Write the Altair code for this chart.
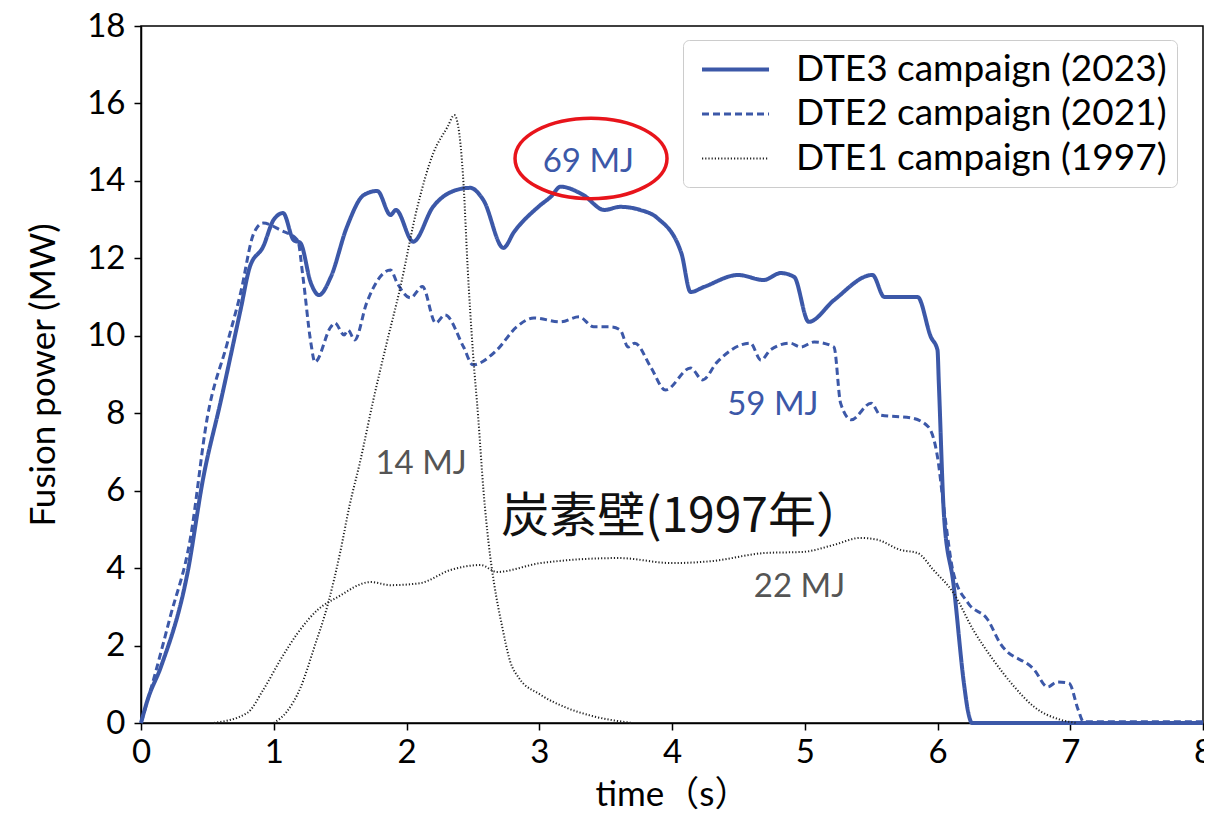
import altair as alt
import pandas as pd

BLUE = "#3C58A8"

# ---- data ----
dte3_t = [0, 0.05, 0.15, 0.35, 0.47, 0.6, 0.75, 0.82, 0.92, 1.0, 1.07, 1.15, 1.2, 1.28, 1.34, 1.43,
          1.55, 1.68, 1.78, 1.88, 1.92, 2.05, 2.2, 2.38, 2.48, 2.58, 2.73, 2.81, 3.0, 3.09, 3.16,
          3.33, 3.49, 3.61, 3.76, 3.89, 4.07, 4.14, 4.24, 4.5, 4.69, 4.82, 4.92, 5.03, 5.22, 5.51,
          5.6, 5.85, 5.95, 6.0, 6.01, 6.05, 6.12, 6.2, 6.23, 6.26, 8.0]
dte3_p = [0, 0.6, 1.45, 3.87, 6.35, 8.3, 10.67, 11.78, 12.3, 13.0, 13.17, 12.47, 12.4, 11.36, 11.05, 11.52,
          12.8, 13.64, 13.74, 13.12, 13.25, 12.43, 13.33, 13.77, 13.82, 13.5, 12.27, 12.68, 13.35, 13.6, 13.85,
          13.64, 13.25, 13.33, 13.25, 13.04, 12.14, 11.13, 11.26, 11.57, 11.44, 11.62, 11.52, 10.36, 10.92, 11.57,
          11.0, 11.0, 9.97, 9.63, 8.78, 5.3, 3.6, 1.0, 0.3, 0.0, 0.0]

dte2_t = [0, 0.1, 0.22, 0.37, 0.5, 0.65, 0.75, 0.85, 0.92, 1.05, 1.18, 1.22, 1.28, 1.31, 1.43, 1.46,
          1.53, 1.56, 1.61, 1.7, 1.88, 1.93, 2.03, 2.12, 2.22, 2.29, 2.43, 2.5, 2.68, 2.83, 2.96,
          3.16, 3.3, 3.41, 3.54, 3.61, 3.67, 3.72, 3.84, 3.95, 4.14, 4.23, 4.34, 4.59, 4.67, 4.74,
          4.89, 4.97, 5.07, 5.22, 5.27, 5.35, 5.5, 5.57, 5.8, 5.93, 6.0, 6.05, 6.12, 6.23, 6.38,
          6.47, 6.73, 6.83, 6.9, 6.99, 7.06, 7.1, 8.0]
dte2_p = [0, 1.19, 2.74, 4.73, 7.9, 9.81, 11.1, 12.65, 12.91, 12.73, 12.47, 11.52, 9.81, 9.32, 10.23, 10.33,
          10.02, 10.15, 9.89, 10.85, 11.7, 11.36, 10.98, 11.27, 10.33, 10.54, 9.71, 9.25, 9.63, 10.23, 10.46,
          10.36, 10.49, 10.23, 10.23, 10.15, 9.71, 9.81, 9.19, 8.6, 9.17, 8.86, 9.32, 9.81, 9.37, 9.63,
          9.81, 9.71, 9.84, 9.71, 8.26, 7.83, 8.26, 7.95, 7.88, 7.65, 6.87, 5.5, 3.87, 3.1, 2.66,
          2.07, 1.37, 0.93, 1.06, 1.03, 0.34, 0.03, 0.03]

dte1a_t = [1.0, 1.1, 1.2, 1.3, 1.41, 1.5, 1.57, 1.65, 1.75, 1.85, 1.95, 2.08, 2.2, 2.31, 2.36, 2.39,
           2.43, 2.46, 2.5, 2.54, 2.58, 2.62, 2.66, 2.72, 2.78, 2.85, 3.0, 3.2, 3.4, 3.7]
dte1a_p = [0, 0.3, 0.9, 1.9, 3.1, 4.4, 5.6, 6.74, 8.34, 9.8, 11.2, 13.3, 14.7, 15.4, 15.7, 15.4,
           13.9, 11.8, 9.6, 7.9, 6.0, 4.6, 3.6, 2.5, 1.6, 1.15, 0.75, 0.4, 0.18, 0.0]

dte1b_t = [0.55, 0.8, 0.92, 1.05, 1.18, 1.33, 1.48, 1.73, 1.88, 2.1, 2.33, 2.56, 2.68, 3.01, 3.6,
           4.0, 4.3, 4.7, 4.99, 5.22, 5.42, 5.55, 5.72, 5.85, 5.97, 6.12, 6.27, 6.42, 6.58, 6.73,
           6.93, 7.05]
dte1b_p = [0, 0.26, 0.85, 1.63, 2.32, 2.92, 3.25, 3.64, 3.56, 3.61, 3.95, 4.08, 3.9, 4.13, 4.26,
           4.13, 4.18, 4.39, 4.42, 4.6, 4.78, 4.73, 4.47, 4.39, 3.95, 3.36, 2.4, 1.63, 0.93, 0.41,
           0.08, 0.0]

campaigns = ["DTE3 campaign (2023)", "DTE2 campaign (2021)", "DTE1 campaign (1997)"]

rows = []
for t, p in zip(dte3_t, dte3_p):
    rows.append({"t": t, "p": p, "campaign": campaigns[0], "shot": "dte3"})
for t, p in zip(dte2_t, dte2_p):
    rows.append({"t": t, "p": p, "campaign": campaigns[1], "shot": "dte2"})
for t, p in zip(dte1a_t, dte1a_p):
    rows.append({"t": t, "p": p, "campaign": campaigns[2], "shot": "dte1a"})
for t, p in zip(dte1b_t, dte1b_p):
    rows.append({"t": t, "p": p, "campaign": campaigns[2], "shot": "dte1b"})
df = pd.DataFrame(rows)

# annotations
blue_text = pd.DataFrame({"t": [3.37, 4.76], "p": [14.5, 8.2], "label": ["69 MJ", "59 MJ"]})
gray_text = pd.DataFrame({"t": [2.11, 4.96], "p": [6.7, 3.5], "label": ["14 MJ", "22 MJ"]})
jp_text = pd.DataFrame({"t": [4.08], "p": [5.3], "label": ["炭素壁(1997年）"]})
ellipse = pd.DataFrame({"t": [3.39], "p": [14.58]})

x_scale = alt.Scale(domain=[0, 8], nice=False)
y_scale = alt.Scale(domain=[0, 18], nice=False)

x_enc = alt.X("t:Q", scale=x_scale,
              axis=alt.Axis(title="time（s）", values=list(range(0, 9)), format="d"))
y_enc = alt.Y("p:Q", scale=y_scale,
              axis=alt.Axis(title="Fusion power (MW)", values=list(range(0, 19, 2)), format="d"))

lines = alt.Chart(df).mark_line(interpolate="monotone").encode(
    x=x_enc,
    y=y_enc,
    detail="shot:N",
    color=alt.Color("campaign:N", scale=alt.Scale(domain=campaigns, range=[BLUE, BLUE, "#222222"]),
                    legend=alt.Legend(title=None)),
    strokeDash=alt.StrokeDash("campaign:N",
                              scale=alt.Scale(domain=campaigns, range=[[1, 0], [7, 4], [1.2, 2]]),
                              legend=alt.Legend(title=None)),
    strokeWidth=alt.StrokeWidth("campaign:N",
                                scale=alt.Scale(domain=campaigns, range=[4, 2, 1.2]),
                                legend=alt.Legend(title=None)),
)

t_blue = alt.Chart(blue_text).mark_text(font="Lato", fontSize=33, color=BLUE).encode(
    x="t:Q", y="p:Q", text="label:N")
t_gray = alt.Chart(gray_text).mark_text(font="Lato", fontSize=33, color="#555555").encode(
    x="t:Q", y="p:Q", text="label:N")
t_jp = alt.Chart(jp_text).mark_text(font="Noto Sans CJK TC", fontSize=48, color="#111111").encode(
    x="t:Q", y="p:Q", text="label:N")

ell = alt.Chart(ellipse).mark_point(
    shape="M -1 0 A 1 0.53 0 1 0 1 0 A 1 0.53 0 1 0 -1 0 Z",
    size=23104, filled=False, color="#E8141B", strokeWidth=3.5, opacity=1
).encode(x="t:Q", y="p:Q")

chart = alt.layer(lines, t_blue, t_gray, t_jp, ell).properties(
    width=1062, height=697,
    autosize=alt.AutoSizeParams(type="none"),
    padding={"left": 133, "top": 18, "right": 1, "bottom": 88},
).configure_view(
    stroke="black", strokeWidth=1.5
).configure_axis(
    grid=False, domainColor="black", domainWidth=1.5, tickColor="black", tickWidth=1.5,
    tickSize=7, labelFont="Lato", labelFontSize=33, labelColor="black", labelFlush=False,
    titleFont="Lato, 'Noto Sans CJK TC'", titleFontSize=35, titleFontWeight="normal", titleColor="black",
).configure_axisX(
    labelPadding=6, titlePadding=8,
).configure_axisY(
    labelPadding=9, titlePadding=25,
).configure_legend(
    orient="none", legendX=542, legendY=14,
    labelFont="Lato", labelFontSize=37, labelColor="black", labelLimit=600,
    symbolType="M -0.6 0 L 3.23 0", symbolSize=1225, labelOffset=64,
    fillColor="white", strokeColor="#cccccc", cornerRadius=6, padding=10,
    rowPadding=7,
)

chart.save("out.html", embed_options={"renderer": "svg", "actions": False})
